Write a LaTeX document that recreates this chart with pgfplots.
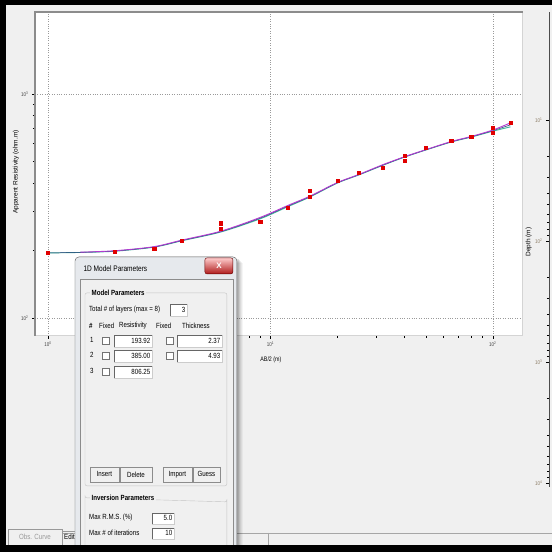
\documentclass[border=0pt]{standalone}
\usepackage{pgfplots}
\pgfplotsset{compat=1.18}
\usepackage{fontspec}
\setmainfont{Liberation Sans}
\newfontfamily\narrow[FakeStretch=0.82]{Liberation Sans}
\definecolor{panel}{HTML}{F0F0F0}
\definecolor{frameA}{HTML}{8C8C8C}
\definecolor{frameB}{HTML}{D4D4D4}
\definecolor{gridc}{HTML}{9A9A9A}
\definecolor{fitteal}{HTML}{3FB59A}
\definecolor{fitnavy}{HTML}{2A3A7A}
\definecolor{fitmag}{HTML}{B23AD0}
\definecolor{obs}{HTML}{E00000}
\definecolor{winframe}{HTML}{E6E9ED}
\definecolor{winedge}{HTML}{5A5A5A}
\definecolor{grpline}{HTML}{C4C4C4}
\definecolor{depthlab}{HTML}{8A7A62}
\newcommand\ebox[5]{%
  \fill[white] (#1,#2) rectangle (#3,#4);
  \draw[black!60] (#1,#4)--(#1,#2)--(#3,#2);
  \draw[black!20] (#3,#2)--(#3,#4)--(#1,#4);
  \node[anchor=east,inner sep=0pt] at ({#3-1.5},{(#2+#4)/2}) {#5};}
\newcommand\cbox[2]{\fill[white,draw=black!55] (#1,#2) rectangle ++(7,7);}
\newcommand\btn[5]{%
  \fill[panel] (#1,#2) rectangle (#3,#4);
  \draw[white] (#1,#4)--(#1,#2)--(#3,#2);
  \draw[black!65] (#3,#2)--(#3,#4)--(#1,#4);
  \draw[black!45] (#1,#2) rectangle (#3,#4);
  \node[inner sep=0pt] at ({(#1+#3)/2},{(#2+#4)/2}) {#5};}
\begin{document}
\begin{tikzpicture}
\begin{scope}[x=1pt,y=-1pt]
\fill[panel] (0,0) rectangle (552,552);
\end{scope}
\begin{axis}[
 at={(35pt,-336pt)}, anchor=south west,
 width=488pt, height=324pt, scale only axis,
 xmode=log, ymode=log,
 xmin=0.874, xmax=136.4, ymin=83.1, ymax=2323,
 axis background/.style={fill=white},
 axis line style={draw=none},
 tick align=outside, tick pos=left,
 major tick length=3pt, minor tick length=2pt,
 tick style={black, line width=0.4pt},
 xtick={1,10,100}, ytick={100,1000},
 xticklabels={10\textsuperscript{0},10\textsuperscript{1},10\textsuperscript{2}},
 yticklabels={10\textsuperscript{2},10\textsuperscript{3}},
 ticklabel style={font=\narrow\fontsize{5.5}{6}\selectfont, text=black!75},
 xticklabel style={yshift=1pt},
 grid=major, major grid style={dotted, gridc, line width=0.4pt},
]
\addplot[fitteal, line width=0.9pt, smooth] coordinates {
(1,195) (1.4,196) (2,198.5) (3,207) (4,221) (6,242) (9,277) (12,314) (15,346) (20,400) (25,435) (32,480) (40,522) (50,562) (65,610) (80,642) (100,682) (120,713)};
\addplot[fitnavy, line width=0.5pt, smooth] coordinates {
(1,195) (1.4,196.2) (2,199) (3,207.5) (4,221.5) (6,243) (9,279) (12,316) (15,347.5) (20,401) (25,436) (32,481) (40,523) (50,563) (65,611.5) (80,644) (100,686) (120,728)};
\addplot[fitmag, line width=0.9pt, smooth] coordinates {
(1.4,196.5) (2,199.5) (3,208) (4,222.5) (6,244) (9,281) (12,318) (15,349) (20,402) (25,437) (32,483) (40,524) (50,564) (65,613) (80,646) (100,690) (120,743)};
\addplot[only marks, mark=square*, mark size=1.6pt, mark options={obs, draw=obs}] coordinates {
(1,195) (2,197) (3,203) (4,221) (6,265) (6,250) (9,268) (12,310) (15,369) (15,347) (20,409) (25,444) (32,468) (40,528) (40,502) (50,574) (65,617) (80,643) (100,705) (100,670) (120,743)};
\end{axis}
\begin{axis}[
 at={(549pt,-487pt)}, anchor=south west,
 width=3pt, height=475pt, scale only axis,
 ymode=log, y dir=reverse,
 ymin=1.28, ymax=10790, xmin=0, xmax=1,
 axis x line=none, axis y line=left,
 axis line style={-, draw=black!70, line width=0.6pt},
 tick align=outside,
 major tick length=3pt, minor tick length=2pt,
 tick style={black, line width=0.4pt},
 ytick={10,100,1000,10000},
 yticklabels={10\textsuperscript{1},10\textsuperscript{2},10\textsuperscript{3},10\textsuperscript{4}},
 yticklabel style={font=\narrow\fontsize{5.5}{6}\selectfont, text=depthlab},
]
\addplot[draw=none] coordinates {(0,10) (1,100)};
\end{axis}
\begin{scope}[x=1pt,y=-1pt]
% plot frame
\draw[frameB, line width=1pt] (523,12) -- (523,336) -- (35,336);
\draw[frameA, line width=1.4pt] (35,336) -- (35,12) -- (523,12);
% axis labels
\node[rotate=90, font=\fontsize{6.5}{7}\selectfont] at (16,172) {Apparent Resistivity (ohm.m)};
\node[rotate=90, font=\fontsize{6.5}{7}\selectfont] at (529,242) {Depth (m)};
\node[font=\narrow\fontsize{6.5}{7}\selectfont] at (271,360) {AB/2 (m)};
\end{scope}
\begin{scope}[x=1pt,y=-1pt, font=\narrow\fontsize{7.5}{8}\selectfont]
% bottom tab strip
\draw[black!35] (62,533) -- (552,533);
\draw[black!35] (268,533) -- (268,545);
\fill[panel] (8,529) rectangle (62,545);
\draw[black!40] (8,545) -- (8,529) -- (62,529) -- (62,545);
\node[text=black!40] at (35,537) {Obs. Curve};
\draw[black!40] (62,531)--(82,531);
\node[anchor=west, inner sep=1pt] at (63,537) {Edit};
% dialog shadow
\foreach \o/\op in {6/0.04,5/0.05,4/0.06,3/0.08,2/0.10} {
  \fill[black, opacity=\op] (75+\o,257+\o) rectangle (237+\o,545);}
% window
\fill[winframe, draw=winedge, rounded corners=4pt] (75,257) rectangle (237,550);
\node[anchor=west, font=\narrow\fontsize{8}{9}\selectfont] at (80,269) {1D Model Parameters};
\shade[top color=red!20!white, bottom color=red!65!black!90, draw=red!40!black, rounded corners=2pt] (205,258) rectangle (233,274);
\node[white, font=\bfseries\fontsize{8}{9}\selectfont] at (219,266) {X};
\fill[panel] (80,279) rectangle (233,545);
\draw[black!45] (80,545)--(80,279)--(233,279)--(233,545);
% group boxes
\draw[grpline, rounded corners=2pt] (85,293) rectangle (227,486);
\node[fill=panel, font=\narrow\bfseries\fontsize{7.5}{8}\selectfont, anchor=west, inner sep=1.5pt] at (90,293) {Model Parameters};
\draw[grpline] (227,545) -- (227,500) arc[start angle=0, end angle=90, radius=2] -- (87,498) arc[start angle=90, end angle=180, radius=2] -- (85,545);
\node[fill=panel, font=\narrow\bfseries\fontsize{7.5}{8}\selectfont, anchor=west, inner sep=1.5pt] at (90,498) {Inversion Parameters};
% rows
\node[anchor=west, inner sep=0pt] at (89,310) {Total \# of layers (max = 8)};
\ebox{170}{304}{187}{316}{3}
\node[anchor=west, inner sep=0pt] at (89,326) {\bfseries\#};
\node[anchor=west, inner sep=0pt] at (99,326) {Fixed};
\node[anchor=west, inner sep=0pt] at (119,326) {Resistivity};
\node[anchor=west, inner sep=0pt] at (156,326) {Fixed};
\node[anchor=west, inner sep=0pt] at (182,326) {Thickness};
\node[anchor=west, inner sep=0pt] at (90,340) {1};
\cbox{102}{337}
\ebox{114}{335}{152}{347}{193.92}
\cbox{166}{337}
\ebox{177}{335}{222}{347}{2.37}
\node[anchor=west, inner sep=0pt] at (90,355) {2};
\cbox{102}{352}
\ebox{114}{350}{152}{362}{385.00}
\cbox{166}{352}
\ebox{177}{350}{222}{362}{4.93}
\node[anchor=west, inner sep=0pt] at (90,371) {3};
\cbox{102}{368}
\ebox{114}{366}{152}{378}{806.25}
% buttons
\btn{90}{467}{119}{482}{Insert}
\btn{120}{467}{152}{482}{Delete}
\btn{163}{467}{192}{482}{Import}
\btn{193}{467}{220}{482}{Guess}
% inversion
\node[anchor=west, inner sep=0pt] at (89,518) {Max R.M.S. (\%)};
\ebox{152}{513}{174}{524}{5.0}
\node[anchor=west, inner sep=0pt] at (89,533) {Max \# of iterations};
\ebox{152}{528}{174}{539}{10}
% black screen borders
\fill[black] (0,0) rectangle (552,5);
\fill[black] (0,0) rectangle (6,552);
\fill[black] (0,545) rectangle (552,552);
\end{scope}
\end{tikzpicture}
\end{document}
